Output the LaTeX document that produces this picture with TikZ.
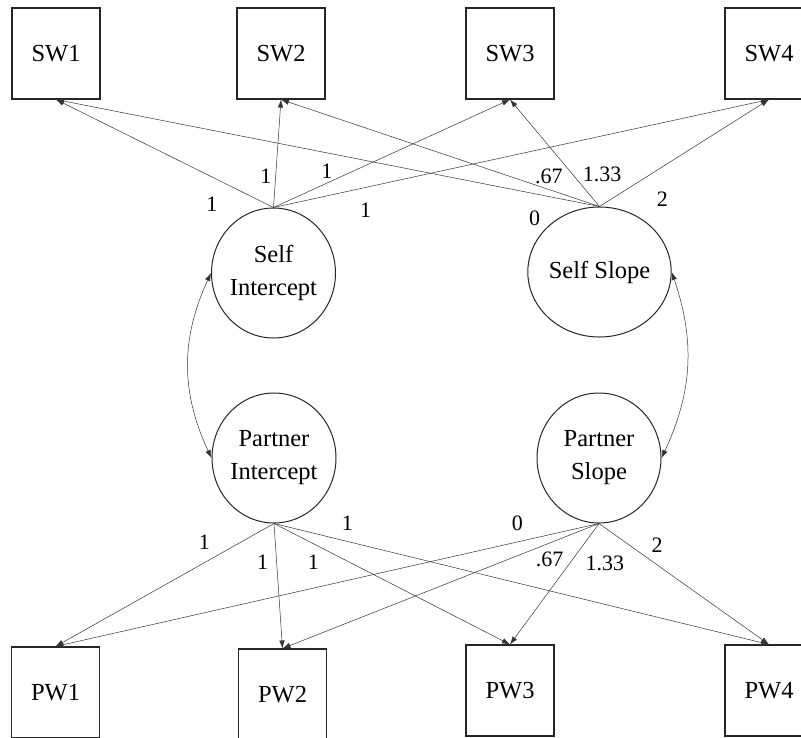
\documentclass[tikz,border=0pt]{standalone}
\usepackage{fontspec}
\setmainfont{Liberation Serif}
\usetikzlibrary{arrows.meta,shapes.geometric}

\begin{document}
\begin{tikzpicture}[
    x=1pt, y=-1pt,
    >={Latex[length=8pt,width=5.5pt]},
    obs/.style={draw=black!85, line width=1.1pt, minimum width=88pt,
        minimum height=91pt, inner sep=0pt,
        font=\fontsize{24.5}{30}\selectfont},
    latent/.style={ellipse, draw=black!85, line width=1pt, minimum width=124pt,
        minimum height=130pt, inner sep=0pt, align=center,
        font=\fontsize{24.5}{33}\selectfont},
    load/.style={->, draw=black!80, line width=0.5pt},
    cov/.style={<->, draw=black!80, line width=0.5pt},
    wt/.style={font=\fontsize{22}{26}\selectfont, inner sep=0pt},
]
\useasboundingbox (0,0) rectangle (801,737);

\node[obs] (SW1) at (56,53.5) {SW1};
\node[obs] (SW2) at (281,53.5) {SW2};
\node[obs] (SW3) at (510,53.5) {SW3};
\node[obs] (SW4) at (769,53.5) {SW4};
\node[obs] (PW1) at (55.5,692.5) {PW1};
\node[obs] (PW2) at (282.5,694.5) {PW2};
\node[obs] (PW3) at (510,690.5) {PW3};
\node[obs] (PW4) at (769,690.5) {PW4};

\node[latent] (SI) at (273.5,273) {Self\\Intercept};
\node[latent] (SS) at (599.5,272) {Self Slope};
\node[latent] (PI) at (274,458) {Partner\\Intercept};
\node[latent] (PS) at (599,458) {Partner\\Slope};

% self loadings
\draw[load] (SI.north) -- (SW1.south) node[wt, pos=.23, xshift=-11.5pt, yshift=-22pt] {1};
\draw[load] (SI.north) -- (SW2.south) node[wt, pos=.3, xshift=-10pt, yshift=-1pt] {1};
\draw[load] (SI.north) -- (SW3.south) node[wt, pos=.23, xshift=-1pt, yshift=11pt] {1};
\draw[load] (SI.north) -- (SW4.south) node[wt, pos=.18, xshift=3pt, yshift=-22pt] {1};
\draw[load] (SS.north) -- (SW1.south) node[wt, pos=.11, xshift=-5pt, yshift=-24pt] {0};
\draw[load] (SS.north) -- (SW2.south) node[wt, pos=.17, xshift=3.5pt, yshift=11.5pt] {.67};
\draw[load] (SS.north) -- (SW3.south) node[wt, pos=.2, xshift=20.5pt, yshift=10.5pt] {1.33};
\draw[load] (SS.north) -- (SW4.south) node[wt, pos=.25, xshift=20.5pt, yshift=-19.5pt] {2};

% partner loadings
\draw[load] (PI.south) -- (PW1.north) node[wt, pos=.25, xshift=-15pt, yshift=12pt] {1};
\draw[load] (PI.south) -- (PW2.north) node[wt, pos=.3, xshift=-14pt, yshift=-1pt] {1};
\draw[load] (PI.south) -- (PW3.north) node[wt, pos=.15, xshift=4pt, yshift=-21pt] {1};
\draw[load] (PI.south) -- (PW4.north) node[wt, pos=.15, xshift=-1pt, yshift=18pt] {1};
\draw[load] (PS.south) -- (PW1.north) node[wt, pos=.15, yshift=19pt] {0};
\draw[load] (PS.south) -- (PW2.north) node[wt, pos=.15, xshift=-2pt, yshift=-17pt] {.67};
\draw[load] (PS.south) -- (PW3.north) node[wt, pos=.25, xshift=28pt, yshift=-9.5pt] {1.33};
\draw[load] (PS.south) -- (PW4.north) node[wt, pos=.25, xshift=15.5pt, yshift=8.5pt] {2};

% covariances
\draw[cov] (SI.west) to[bend right=25] (PI.west);
\draw[cov] (SS.east) to[bend left=22] (PS.east);
\end{tikzpicture}
\end{document}
